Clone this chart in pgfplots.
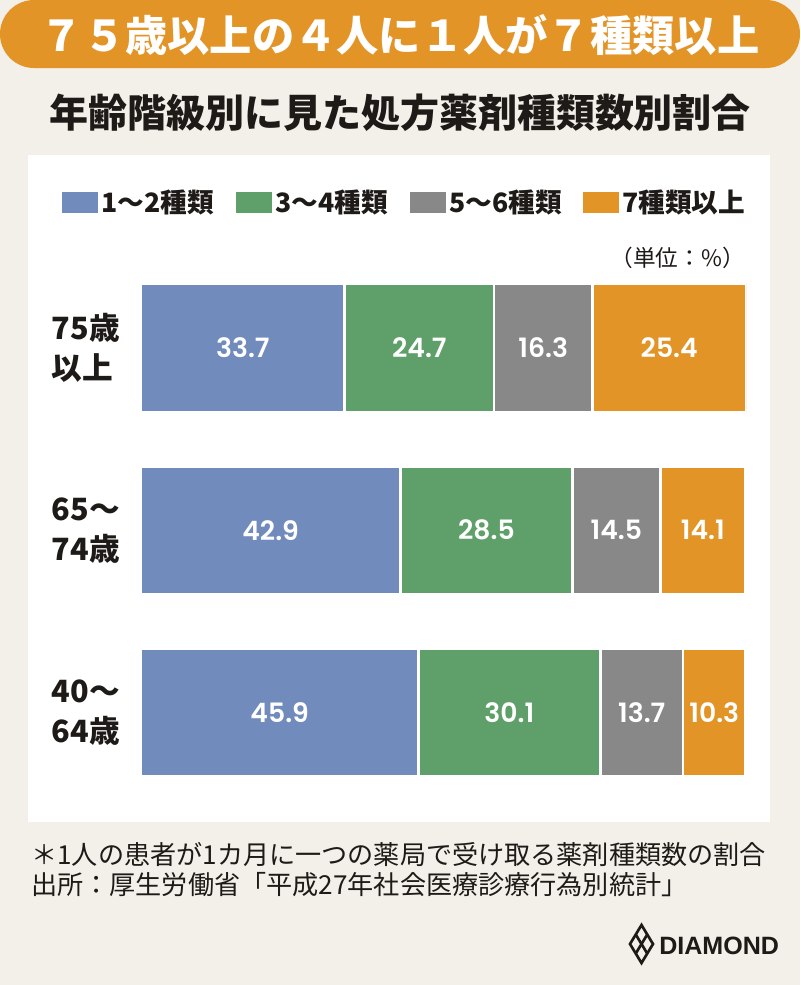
\documentclass[border=0pt]{standalone}
\usepackage{pgfplots}
\pgfplotsset{compat=1.18}
\usepackage{fontspec}
\setmainfont{Noto Sans CJK JP}
\newfontfamily\numfont{Poppins SemiBold}
\newfontfamily\logofont{Liberation Sans}
\definecolor{cblue}{HTML}{718BBC}
\definecolor{cgreen}{HTML}{5FA06A}
\definecolor{cgray}{HTML}{888888}
\definecolor{corange}{HTML}{E39426}
\definecolor{bg}{HTML}{F3F0E9}
\definecolor{ink}{HTML}{1E1A17}
\begin{document}
\begin{tikzpicture}
\begin{scope}[x=0.75pt,y=-0.75pt]
\useasboundingbox (0,0) rectangle (800,985);
\fill[bg] (0,0) rectangle (800,985);
\fill[corange, rounded corners=25.5pt] (0,0) rectangle (800,68);
\fill[white] (28,155) rectangle (770,822);
\node[white, inner sep=0pt, font=\fontsize{31.7}{34}\selectfont\bfseries] at (400,35) {７５歳以上の４人に１人が７種類以上};
\node[ink, inner sep=0pt, font=\fontsize{29.25}{32}\selectfont\bfseries] at (400,113) {年齢階級別に見た処方薬剤種類数別割合};
% legend
\fill[cblue] (62,192) rectangle (98,213);
\node[ink, anchor=west, inner sep=0pt, font=\fontsize{20}{24}\selectfont\bfseries] at (101,202) {1〜2種類};
\fill[cgreen] (236,192) rectangle (272,213);
\node[ink, anchor=west, inner sep=0pt, font=\fontsize{20}{24}\selectfont\bfseries] at (275,202) {3〜4種類};
\fill[cgray] (410,192) rectangle (446,213);
\node[ink, anchor=west, inner sep=0pt, font=\fontsize{20}{24}\selectfont\bfseries] at (449,202) {5〜6種類};
\fill[corange] (583,192) rectangle (619,213);
\node[ink, anchor=west, inner sep=0pt, font=\fontsize{20}{24}\selectfont\bfseries] at (622,202) {7種類以上};
\node[ink, anchor=east, inner sep=0pt, font=\fontsize{17}{20}\selectfont] at (745,258) {（単位：\%）};
% footnotes
\node[ink, anchor=west, inner sep=0pt, font=\fontsize{19.6}{22}\selectfont] at (31,855) {＊1人の患者が1カ月に一つの薬局で受け取る薬剤種類数の割合};
\node[ink, anchor=west, inner sep=0pt, font=\fontsize{19.6}{22}\selectfont] at (31,885) {出所：厚生労働省「平成27年社会医療診療行為別統計」};
% logo
\draw[ink, line width=2pt, line join=miter] (641.5,925)--(653,944)--(641.5,963)--(630,944)--cycle;
\draw[ink, line width=2pt] (635.75,934.5)--(647.25,953.5);
\draw[ink, line width=2pt] (647.25,934.5)--(635.75,953.5);
\node[ink, anchor=west, inner sep=0pt, font=\logofont\fontsize{18.8}{20}\selectfont\bfseries] at (659,946) {DIAMOND};
\end{scope}
\begin{axis}[
  at={(105.75pt,-602.7pt)}, anchor=south west,
  scale only axis, width=453.75pt, height=410.06pt,
  xbar stacked, bar width=96pt,
  xmin=0, xmax=100.1, ymin=-0.5, ymax=2.5,
  axis line style={draw=none}, tick style={draw=none},
  xtick=\empty,
  ytick={0,1,2},
  yticklabels={{40〜\\64歳},{65〜\\74歳},{75歳\\以上}},
  yticklabel style={align=left, text width=66.75pt, anchor=east, inner sep=0pt,
    text=ink, font=\fontsize{23}{30}\selectfont\bfseries},
  visualization depends on={rawx \as \rawx},
  nodes near coords={\pgfmathprintnumber[fixed,fixed zerofill,precision=1,assume math mode=true]{\rawx}},
  nodes near coords style={anchor=center, text=white,
    font=\numfont\fontsize{20}{24}\selectfont},
  every axis plot/.append style={draw=white, line width=2pt},
]
\addplot[fill=cblue] coordinates {(45.9,0) (42.9,1) (33.7,2)};
\addplot[fill=cgreen] coordinates {(30.1,0) (28.5,1) (24.7,2)};
\addplot[fill=cgray] coordinates {(13.7,0) (14.5,1) (16.3,2)};
\addplot[fill=corange] coordinates {(10.3,0) (14.1,1) (25.4,2)};
\end{axis}
\end{tikzpicture}
\end{document}
